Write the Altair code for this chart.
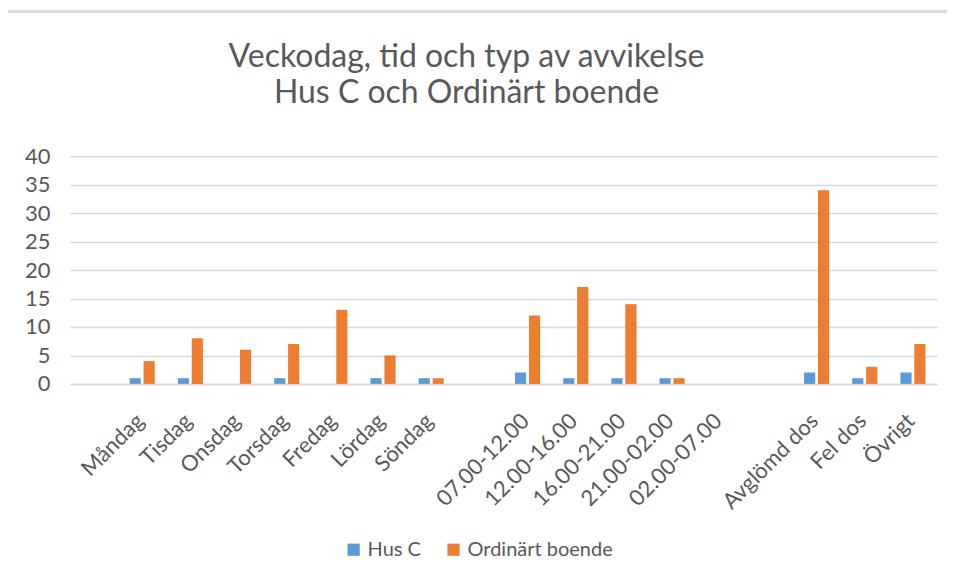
import altair as alt
import pandas as pd

categories = ["Måndag", "Tisdag", "Onsdag", "Torsdag", "Fredag", "Lördag", "Söndag",
              "07.00-12.00", "12.00-16.00", "16.00-21.00", "21.00-02.00", "02.00-07.00",
              "Avglömd dos", "Fel dos", "Övrigt"]
hus_c = [1, 1, 0, 1, 0, 1, 1, 2, 1, 1, 1, 0, 2, 1, 2]
ordinart = [4, 8, 6, 7, 13, 5, 1, 12, 17, 14, 1, 0, 34, 3, 7]
series = ["Hus C", "Ordinärt boende"]
colors = ["#5B9BD5", "#ED7D31"]
title_lines = ["Veckodag, tid och typ av avvikelse", "Hus C och Ordinärt boende"]
y_ticks = [0, 5, 10, 15, 20, 25, 30, 35, 40]

# blank slots separate the three groups (as in the original Excel chart)
domain = [" "] + categories[:7] + ["  "] + categories[7:12] + ["   "] + categories[12:]

rows = []
for c, a, b in zip(categories, hus_c, ordinart):
    rows.append({"kategori": c, "serie": series[0], "antal": a})
    rows.append({"kategori": c, "serie": series[1], "antal": b})
df = pd.DataFrame(rows)

FONT = "Lato"
GREY = "#595959"
GRID = "#d9d9d9"

bars = alt.Chart(df).mark_bar().encode(
    x=alt.X("kategori:N", sort=domain,
            scale=alt.Scale(domain=domain, paddingInner=0.48, paddingOuter=0.24),
            axis=alt.Axis(title=None, labelAngle=-45, labelFontSize=22, labelColor=GREY,
                          labelFont=FONT, ticks=False, domain=True, domainColor=GRID,
                          domainWidth=1.5, labelPadding=26, labelOffset=-9)),
    xOffset=alt.XOffset("serie:N", sort=series,
                        scale=alt.Scale(paddingInner=0.2, paddingOuter=0)),
    y=alt.Y("antal:Q", scale=alt.Scale(domain=[0, 40], nice=False),
            axis=alt.Axis(title=None, values=y_ticks, labelFontSize=22, labelColor=GREY,
                          labelFont=FONT, ticks=False, domain=False, grid=True,
                          gridColor=GRID, gridWidth=1.5, labelPadding=20)),
    color=alt.Color("serie:N", sort=series,
                    scale=alt.Scale(domain=series, range=colors),
                    legend=alt.Legend(title=None, orient="none", legendX=274, legendY=384,
                                      direction="horizontal", symbolType="square",
                                      symbolSize=150, symbolStrokeWidth=0,
                                      labelFontSize=20, labelColor=GREY, labelFont=FONT,
                                      columnPadding=22, labelOffset=4)),
)

frame_left = alt.Chart(df).mark_rule(color=GRID, strokeWidth=2).encode(
    x=alt.value(-64), y=alt.value(-145), y2=alt.value(420))
frame_top = alt.Chart(df).mark_rule(color=GRID, strokeWidth=2).encode(
    x=alt.value(-64), x2=alt.value(900), y=alt.value(-145))

chart = alt.layer(frame_left, frame_top, bars).properties(
    width=868, height=228,
    title=alt.TitleParams(text=title_lines, fontSize=32, font=FONT, fontWeight="normal",
                          color=GREY, anchor="middle", frame="group", dx=-37,
                          offset=-100, lineHeight=36),
    padding={"left": 62, "top": 148, "right": 10, "bottom": 184},
    autosize=alt.AutoSizeParams(type="none"),
).configure_view(strokeWidth=0)

chart.save("out.html", embed_options={"renderer": "svg", "actions": False})
